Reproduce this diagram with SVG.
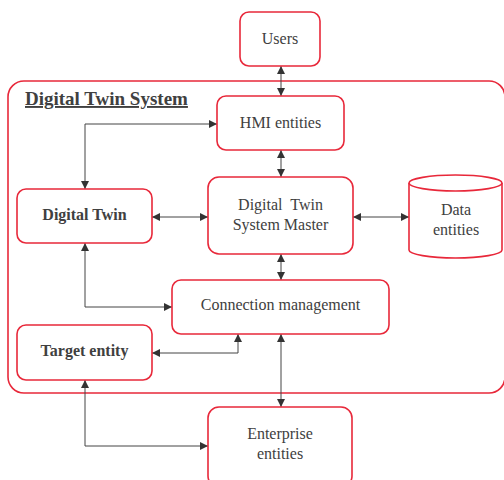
<svg xmlns="http://www.w3.org/2000/svg" width="504" height="480" viewBox="0 0 504 480">
<defs>
<marker id="ah" viewBox="0 0 10 10" refX="10" refY="5" markerWidth="8" markerHeight="8" markerUnits="userSpaceOnUse" orient="auto-start-reverse">
<path d="M0,0 L10,5 L0,10 z" fill="#333"/>
</marker>
</defs>
<style>
.box{fill:#fff;stroke:#e8283a;stroke-width:1.6}
.c{fill:none;stroke:#444;stroke-width:1;marker-start:url(#ah);marker-end:url(#ah)}
</style>
<rect width="504" height="480" fill="#fff"/>
<g id="system">
<rect class="box" x="8" y="81" width="497" height="312" rx="16"/>
<text x="25" y="105" font-family="Liberation Serif" font-size="19" font-weight="bold" fill="#404040" text-decoration="underline">Digital Twin System</text>
</g>
<g id="connectors">
<path class="c" d="M281,66 V96"/>
<path class="c" d="M217,124 H85 V189"/>
<path class="c" d="M281,150 V177"/>
<path class="c" d="M152,217 H208"/>
<path class="c" d="M353,217 H409"/>
<path class="c" d="M281,254 V280"/>
<path class="c" d="M85,243 V307 H172"/>
<path class="c" d="M152,353 H238 V334"/>
<path class="c" d="M281,334 V407"/>
<path class="c" d="M85,380 V446 H208"/>
</g>
<g id="users">
<rect class="box" x="240" y="12" width="80" height="54" rx="9"/>
<text x="280" y="44" font-family="Liberation Serif" font-size="16" fill="#404040" text-anchor="middle">Users</text>
</g>
<g id="hmi">
<rect class="box" x="217" y="96" width="127" height="54" rx="9"/>
<text x="280.5" y="128" font-family="Liberation Serif" font-size="16" fill="#404040" text-anchor="middle">HMI entities</text>
</g>
<g id="digital-twin">
<rect class="box" x="17" y="189" width="135" height="54" rx="9"/>
<text x="84.5" y="220" font-family="Liberation Serif" font-size="16" font-weight="bold" fill="#404040" text-anchor="middle">Digital Twin</text>
</g>
<g id="dtsm">
<rect class="box" x="208" y="177" width="145" height="77" rx="11"/>
<text x="280.5" y="210" font-family="Liberation Serif" font-size="16" fill="#404040" text-anchor="middle" xml:space="preserve">Digital  Twin</text>
<text x="280.5" y="230" font-family="Liberation Serif" font-size="16" fill="#404040" text-anchor="middle">System Master</text>
</g>
<g id="data">
<path class="box" d="M409,183 V250 A46.5,8 0 0 0 502,250 V183"/>
<ellipse class="box" cx="455.5" cy="183" rx="46.5" ry="8"/>
<text x="456" y="215" font-family="Liberation Serif" font-size="16" fill="#404040" text-anchor="middle">Data</text>
<text x="456" y="235" font-family="Liberation Serif" font-size="16" fill="#404040" text-anchor="middle">entities</text>
</g>
<g id="connection">
<rect class="box" x="172" y="280" width="217" height="54" rx="9"/>
<text x="280.5" y="310" font-family="Liberation Serif" font-size="16" fill="#404040" text-anchor="middle">Connection management</text>
</g>
<g id="target">
<rect class="box" x="17" y="325" width="135" height="55" rx="9"/>
<text x="84.5" y="356" font-family="Liberation Serif" font-size="16" font-weight="bold" fill="#404040" text-anchor="middle">Target entity</text>
</g>
<g id="enterprise">
<rect class="box" x="208" y="407" width="144" height="80" rx="11"/>
<text x="280" y="439" font-family="Liberation Serif" font-size="16" fill="#404040" text-anchor="middle">Enterprise</text>
<text x="280" y="459" font-family="Liberation Serif" font-size="16" fill="#404040" text-anchor="middle">entities</text>
</g>
</svg>
